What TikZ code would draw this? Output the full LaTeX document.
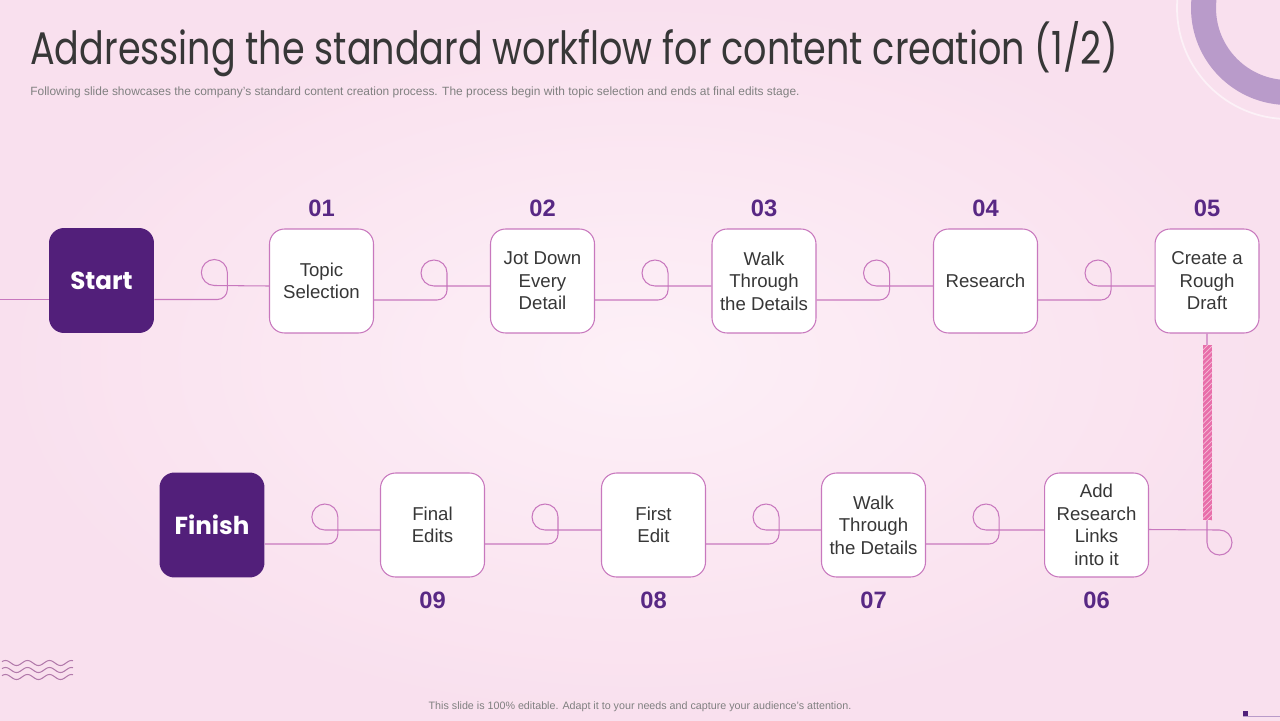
\documentclass[tikz,border=0pt]{standalone}
\usepackage{fontspec}
\setmainfont{Liberation Sans}
\newfontfamily\titlefont[FakeStretch=0.8]{Poppins}
\newfontfamily\headfont{Poppins}
\usetikzlibrary{calc,patterns}
\definecolor{blush}{RGB}{249, 224, 238}
\definecolor{blushlight}{RGB}{253, 240, 247}
\definecolor{grape}{RGB}{82, 31, 122}
\definecolor{plum}{RGB}{88, 40, 132}
\definecolor{orchid}{RGB}{200, 120, 190}
\definecolor{lilac}{RGB}{185, 155, 202}
\definecolor{bubblegum}{RGB}{232, 110, 170}
\definecolor{slate}{RGB}{55, 55, 55}
\tikzset{
  stepbox/.style={draw=orchid, fill=white, line width=0.6pt, rounded corners=0.3cm,
                  minimum width=2.08cm, minimum height=2.08cm, align=center, text=slate,
                  font=\fontsize{10.6}{12.8}\selectfont},
  endbox/.style={fill=grape, rounded corners=0.3cm, minimum width=2.1cm, minimum height=2.1cm,
                 text=white, font=\headfont\bfseries\fontsize{14}{16}\selectfont},
  num/.style={text=plum, font=\bfseries\fontsize{13.5}{15}\selectfont},
  link/.style={draw=orchid, line width=0.6pt},
}
% loop connector between two boxes of a row
\newcommand{\twirl}[2]{\draw[link] ($(#1.east)+(0,-19)$) -- ++(63,0) arc (-90:0:10) -- ++(0,17)
  arc (0:270:13) -- ($(#2.west)+(0,-5)$);}

\begin{document}
\begin{tikzpicture}[x=0.02cm, y=0.02cm]
            \useasboundingbox (0,0) rectangle (1280,-720);
            \clip (0,0) rectangle (1280,-720);
            \shade[inner color=blushlight, outer color=blush] (0,0) rectangle (1280,-720);
            % corner ring
            \draw[white!55!blush, line width=1pt]  (1288,-8) circle (111);
            \draw[lilac, line width=0.5cm]          (1288,-8) circle (84.5);
            % heading
            \node[anchor=base west, inner sep=0, text=slate, font=\titlefont\fontsize{26}{30}\selectfont] (title) at (30,-64)
                 {Addressing the standard workflow for content creation (1/2)};
            \node[anchor=base west, inner sep=0, text=gray, font=\fontsize{6.8}{8}\selectfont] (sub) at (30,-95)
                 {Following slide showcases the company’s standard content creation process. The process begin with topic selection and ends at final edits stage.};
            % first row
            \node[endbox]  (start)  at ( 101.5,-280.5) {Start};
            \node[stepbox] (s01)    at ( 321.5,-281.0) {Topic\\Selection};
            \node[stepbox] (s02)    at ( 542.5,-281.0) {Jot Down\\Every\\Detail};
            \node[stepbox] (s03)    at ( 764.0,-281.0) {Walk\\Through\\the Details};
            \node[stepbox] (s04)    at ( 985.5,-281.0) {Research};
            \node[stepbox] (s05)    at (1207.0,-281.0) {Create a\\Rough\\Draft};
            \node[num]     (n01)    at ( 321.5,-208.0) {01};
            \node[num]     (n02)    at ( 542.5,-208.0) {02};
            \node[num]     (n03)    at ( 764.0,-208.0) {03};
            \node[num]     (n04)    at ( 985.5,-208.0) {04};
            \node[num]     (n05)    at (1207.0,-208.0) {05};
            % second row
            \node[endbox]  (finish) at ( 212.0,-525.0) {Finish};
            \node[stepbox] (s09)    at ( 432.5,-525.0) {Final\\Edits};
            \node[stepbox] (s08)    at ( 653.5,-525.0) {First\\Edit};
            \node[stepbox] (s07)    at ( 873.5,-525.0) {Walk\\Through\\the Details};
            \node[stepbox] (s06)    at (1096.5,-525.0) {Add\\Research\\Links\\into it};
            \node[num]     (n09)    at ( 432.5,-600.0) {09};
            \node[num]     (n08)    at ( 653.5,-600.0) {08};
            \node[num]     (n07)    at ( 873.5,-600.0) {07};
            \node[num]     (n06)    at (1096.5,-600.0) {06};
            % connectors
            \coordinate (edge) at (0,-299.5);
            \draw[link] (edge) -- ($(start.west)+(0,-19)$);
            \twirl{start}{s01} \twirl{s01}{s02} \twirl{s02}{s03} \twirl{s03}{s04} \twirl{s04}{s05}
            \twirl{finish}{s09} \twirl{s09}{s08} \twirl{s08}{s07} \twirl{s07}{s06}
            \draw[link] (s05.south) -- ++(0,-209) arc (180:450:12.5) -- ($(s06.east)+(0,-4.5)$);
            \fill[bubblegum]                                                   (1203,-345) rectangle (1212,-520);
            \fill[pattern=north east lines, pattern color=white!55!bubblegum]  (1203,-345) rectangle (1212,-520);
            % waves and footer
            \foreach \dy in {663,670,677}
              \draw[orchid!70!gray, line width=0.6pt] plot[domain=2:73, samples=80, smooth] (\x, {-\dy+2.5*sin(\x*16.3636)});
            \node[text=gray, font=\fontsize{6.1}{7}\selectfont] (foot) at (640,-707)
                 {This slide is 100\% editable.  Adapt it to your needs and capture your audience’s attention.};
            \fill[grape]                   (1243,-711) rectangle (1248,-716);
            \draw[lilac, line width=0.4pt] (1243,-716) -- (1280,-716);
\end{tikzpicture}
\end{document}
